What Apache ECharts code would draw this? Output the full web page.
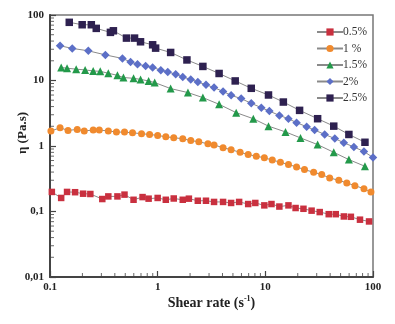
<!DOCTYPE html>
<html><head><meta charset="utf-8">
<script src="https://cdn.jsdelivr.net/npm/echarts@6/dist/echarts.min.js"></script>
<style>html,body{margin:0;padding:0;background:#fff}#c{width:395px;height:324px}</style>
</head><body><div id="c"></div>
<script>
const seriesNames = ['0.5%', '1 %', '1.5%', '2%', '2.5%'];
const xTickLabels = {'0.1':'0.1','1':'1','10':'10','100':'100'};
const yTickLabels = {'0.01':'0,01','0.1':'0,1','1':'1','10':'10','100':'100'};

const s05 = [[0.104,0.199],[0.127,0.161],[0.144,0.199],[0.171,0.197],[0.203,0.187],[0.237,0.185],[0.306,0.155],[0.348,0.170],[0.423,0.170],[0.492,0.181],[0.597,0.151],[0.724,0.166],[0.824,0.157],[1.0,0.161],[1.19,0.151],[1.41,0.158],[1.71,0.151],[1.95,0.157],[2.36,0.146],[2.81,0.146],[3.34,0.140],[4.05,0.140],[4.81,0.135],[5.71,0.140],[6.93,0.130],[8.07,0.135],[9.79,0.124],[11.4,0.130],[13.5,0.119],[16.4,0.124],[19.1,0.113],[22.6,0.110],[26.9,0.103],[32.0,0.098],[38.8,0.091],[45.1,0.091],[53.6,0.084],[62.3,0.083],[75.7,0.075],[91.9,0.0705]];
const s1 = [[0.102,1.69],[0.124,1.90],[0.147,1.73],[0.179,1.79],[0.208,1.70],[0.252,1.75],[0.287,1.75],[0.348,1.70],[0.414,1.63],[0.492,1.63],[0.584,1.59],[0.708,1.54],[0.841,1.50],[1.0,1.45],[1.19,1.38],[1.41,1.34],[1.71,1.29],[2.03,1.21],[2.41,1.16],[2.93,1.08],[3.34,1.04],[4.05,0.94],[4.81,0.88],[5.83,0.80],[6.93,0.74],[8.24,0.70],[9.79,0.66],[11.6,0.61],[13.8,0.565],[16.4,0.52],[19.5,0.48],[23.1,0.436],[28.1,0.397],[33.4,0.366],[39.6,0.326],[48.1,0.299],[57.1,0.273],[67.9,0.248],[82.4,0.223],[95.7,0.199]];
const s15 = [[0.127,15.8],[0.144,15.4],[0.175,14.9],[0.212,14.5],[0.252,14.0],[0.293,13.8],[0.348,12.9],[0.423,12.0],[0.481,11.1],[0.597,10.8],[0.694,10.4],[0.824,9.84],[0.938,9.30],[1.32,7.53],[1.91,6.54],[2.63,5.48],[3.72,4.33],[5.36,3.23],[7.73,2.61],[10.7,2.01],[15.4,1.64],[21.2,1.33],[30.6,1.05],[43.2,0.80],[59.7,0.62],[84.2,0.49]];
const s2 = [[0.124,33.9],[0.161,30.9],[0.227,28.4],[0.327,24.6],[0.471,21.7],[0.560,19.2],[0.650,17.7],[0.773,16.7],[0.898,15.8],[1.07,14.4],[1.24,13.5],[1.47,12.5],[1.71,11.3],[2.03,10.4],[2.36,9.5],[2.81,8.6],[3.34,7.8],[4.05,6.8],[4.81,5.94],[5.97,5.29],[7.40,4.48],[9.18,3.85],[10.9,3.41],[13.5,2.93],[16.4,2.61],[19.5,2.27],[24.2,1.97],[28.7,1.75],[35.6,1.50],[44.2,1.30],[53.6,1.12],[66.4,0.966],[82.4,0.824],[100,0.667]];
const s25 = [[0.151,77.3],[0.199,71],[0.242,71],[0.269,62.5],[0.364,54.3],[0.388,57.4],[0.513,44.4],[0.610,44.4],[0.693,39],[0.898,35.1],[0.957,31.2],[1.32,26.8],[1.87,20.6],[2.63,16.4],[3.72,12.8],[5.25,9.85],[7.40,7.60],[10.7,6.01],[14.7,4.69],[20.8,3.50],[30.6,2.61],[43.2,2.01],[59.7,1.50],[84.2,1.14]];

const xMinorTicks = [0.2,0.3,0.4,0.5,0.6,0.7,0.8,0.9,2,3,4,5,6,7,8,9,20,30,40,50,60,70,80,90];
const yMinorTicks = [0.02,0.03,0.04,0.05,0.06,0.07,0.08,0.09,0.2,0.3,0.4,0.5,0.6,0.7,0.8,0.9,2,3,4,5,6,7,8,9,20,30,40,50,60,70,80,90];

const colors = ['#c9303f', '#f08a2e', '#23994a', '#5c6fc7', '#2e2150'];
const symbols = ['rect', 'circle', 'triangle', 'diamond', 'rect'];
const sizes = [6.5, 7, 8, 8.5, 7.5];
const datas = [s05, s1, s15, s2, s25];
const FONT = '"Liberation Serif","Times New Roman",serif';

const chart = echarts.init(document.getElementById('c'), null, {renderer: 'canvas'});
const series = datas.map((d, i) => ({
  name: seriesNames[i], type: 'line', data: d,
  symbol: symbols[i], symbolSize: sizes[i], showSymbol: true,
  itemStyle: {color: colors[i]},
  lineStyle: {color: '#8a8a8a', width: 1},
  z: 5
}));
series.push({
  type: 'scatter', silent: true, clip: false, z: 1,
  data: xMinorTicks.map(v => [v, 0.01]),
  symbol: 'rect', symbolSize: [1, 4], symbolOffset: [0, -2],
  itemStyle: {color: '#444'}
});
series.push({
  type: 'scatter', silent: true, clip: false, z: 1,
  data: yMinorTicks.map(v => [0.1, v]),
  symbol: 'rect', symbolSize: [4, 1], symbolOffset: [2, 0],
  itemStyle: {color: '#444'}
});

chart.setOption({
  animation: false,
  backgroundColor: '#fff',
  grid: {left: 50, right: 22, top: 15, bottom: 47, show: true, borderColor: '#777', borderWidth: 1.5},
  legend: {
    orient: 'vertical', left: 311, top: 21, itemWidth: 26, itemHeight: 9, itemGap: 4.5,
    data: seriesNames,
    textStyle: {fontFamily: FONT, fontSize: 11.5, color: '#333', padding: [0,0,0,-5]}
  },
  xAxis: {
    type: 'log', logBase: 10, min: 0.1, max: 100,
    name: 'Shear rate (s{sup|-1})', nameLocation: 'middle', nameGap: 18, nameMoveOverlap: false,
    nameTextStyle: {fontFamily: FONT, fontSize: 14, fontWeight: 'bold', color: '#222',
      rich: {sup: {fontFamily: FONT, fontSize: 8, fontWeight: 'bold', color: '#222', padding: [0,0,8,0]}}},
    axisLine: {lineStyle: {color: '#444', width: 2}},
    axisTick: {inside: true, length: 6, lineStyle: {color: '#444', width: 1.2}},
    splitLine: {show: false},
    axisLabel: {fontFamily: FONT, fontSize: 11, fontWeight: 'bold', color: '#222', margin: 5,
      formatter: v => xTickLabels[String(+v.toPrecision(3))] || ''}
  },
  yAxis: {
    type: 'log', logBase: 10, min: 0.01, max: 100,
    name: 'η (Pa.s)', nameLocation: 'middle', nameGap: 21, nameMoveOverlap: false,
    nameTextStyle: {fontFamily: FONT, fontSize: 13, fontWeight: 'bold', color: '#222', padding: [0,0,0,26]},
    axisLine: {lineStyle: {color: '#444', width: 2}},
    axisTick: {inside: true, length: 6, lineStyle: {color: '#444', width: 1.2}},
    splitLine: {show: false},
    axisLabel: {fontFamily: FONT, fontSize: 11, fontWeight: 'bold', color: '#222', margin: 6,
      formatter: v => yTickLabels[String(+v.toPrecision(3))] || ''}
  },
  series: series
});
</script></body></html>
